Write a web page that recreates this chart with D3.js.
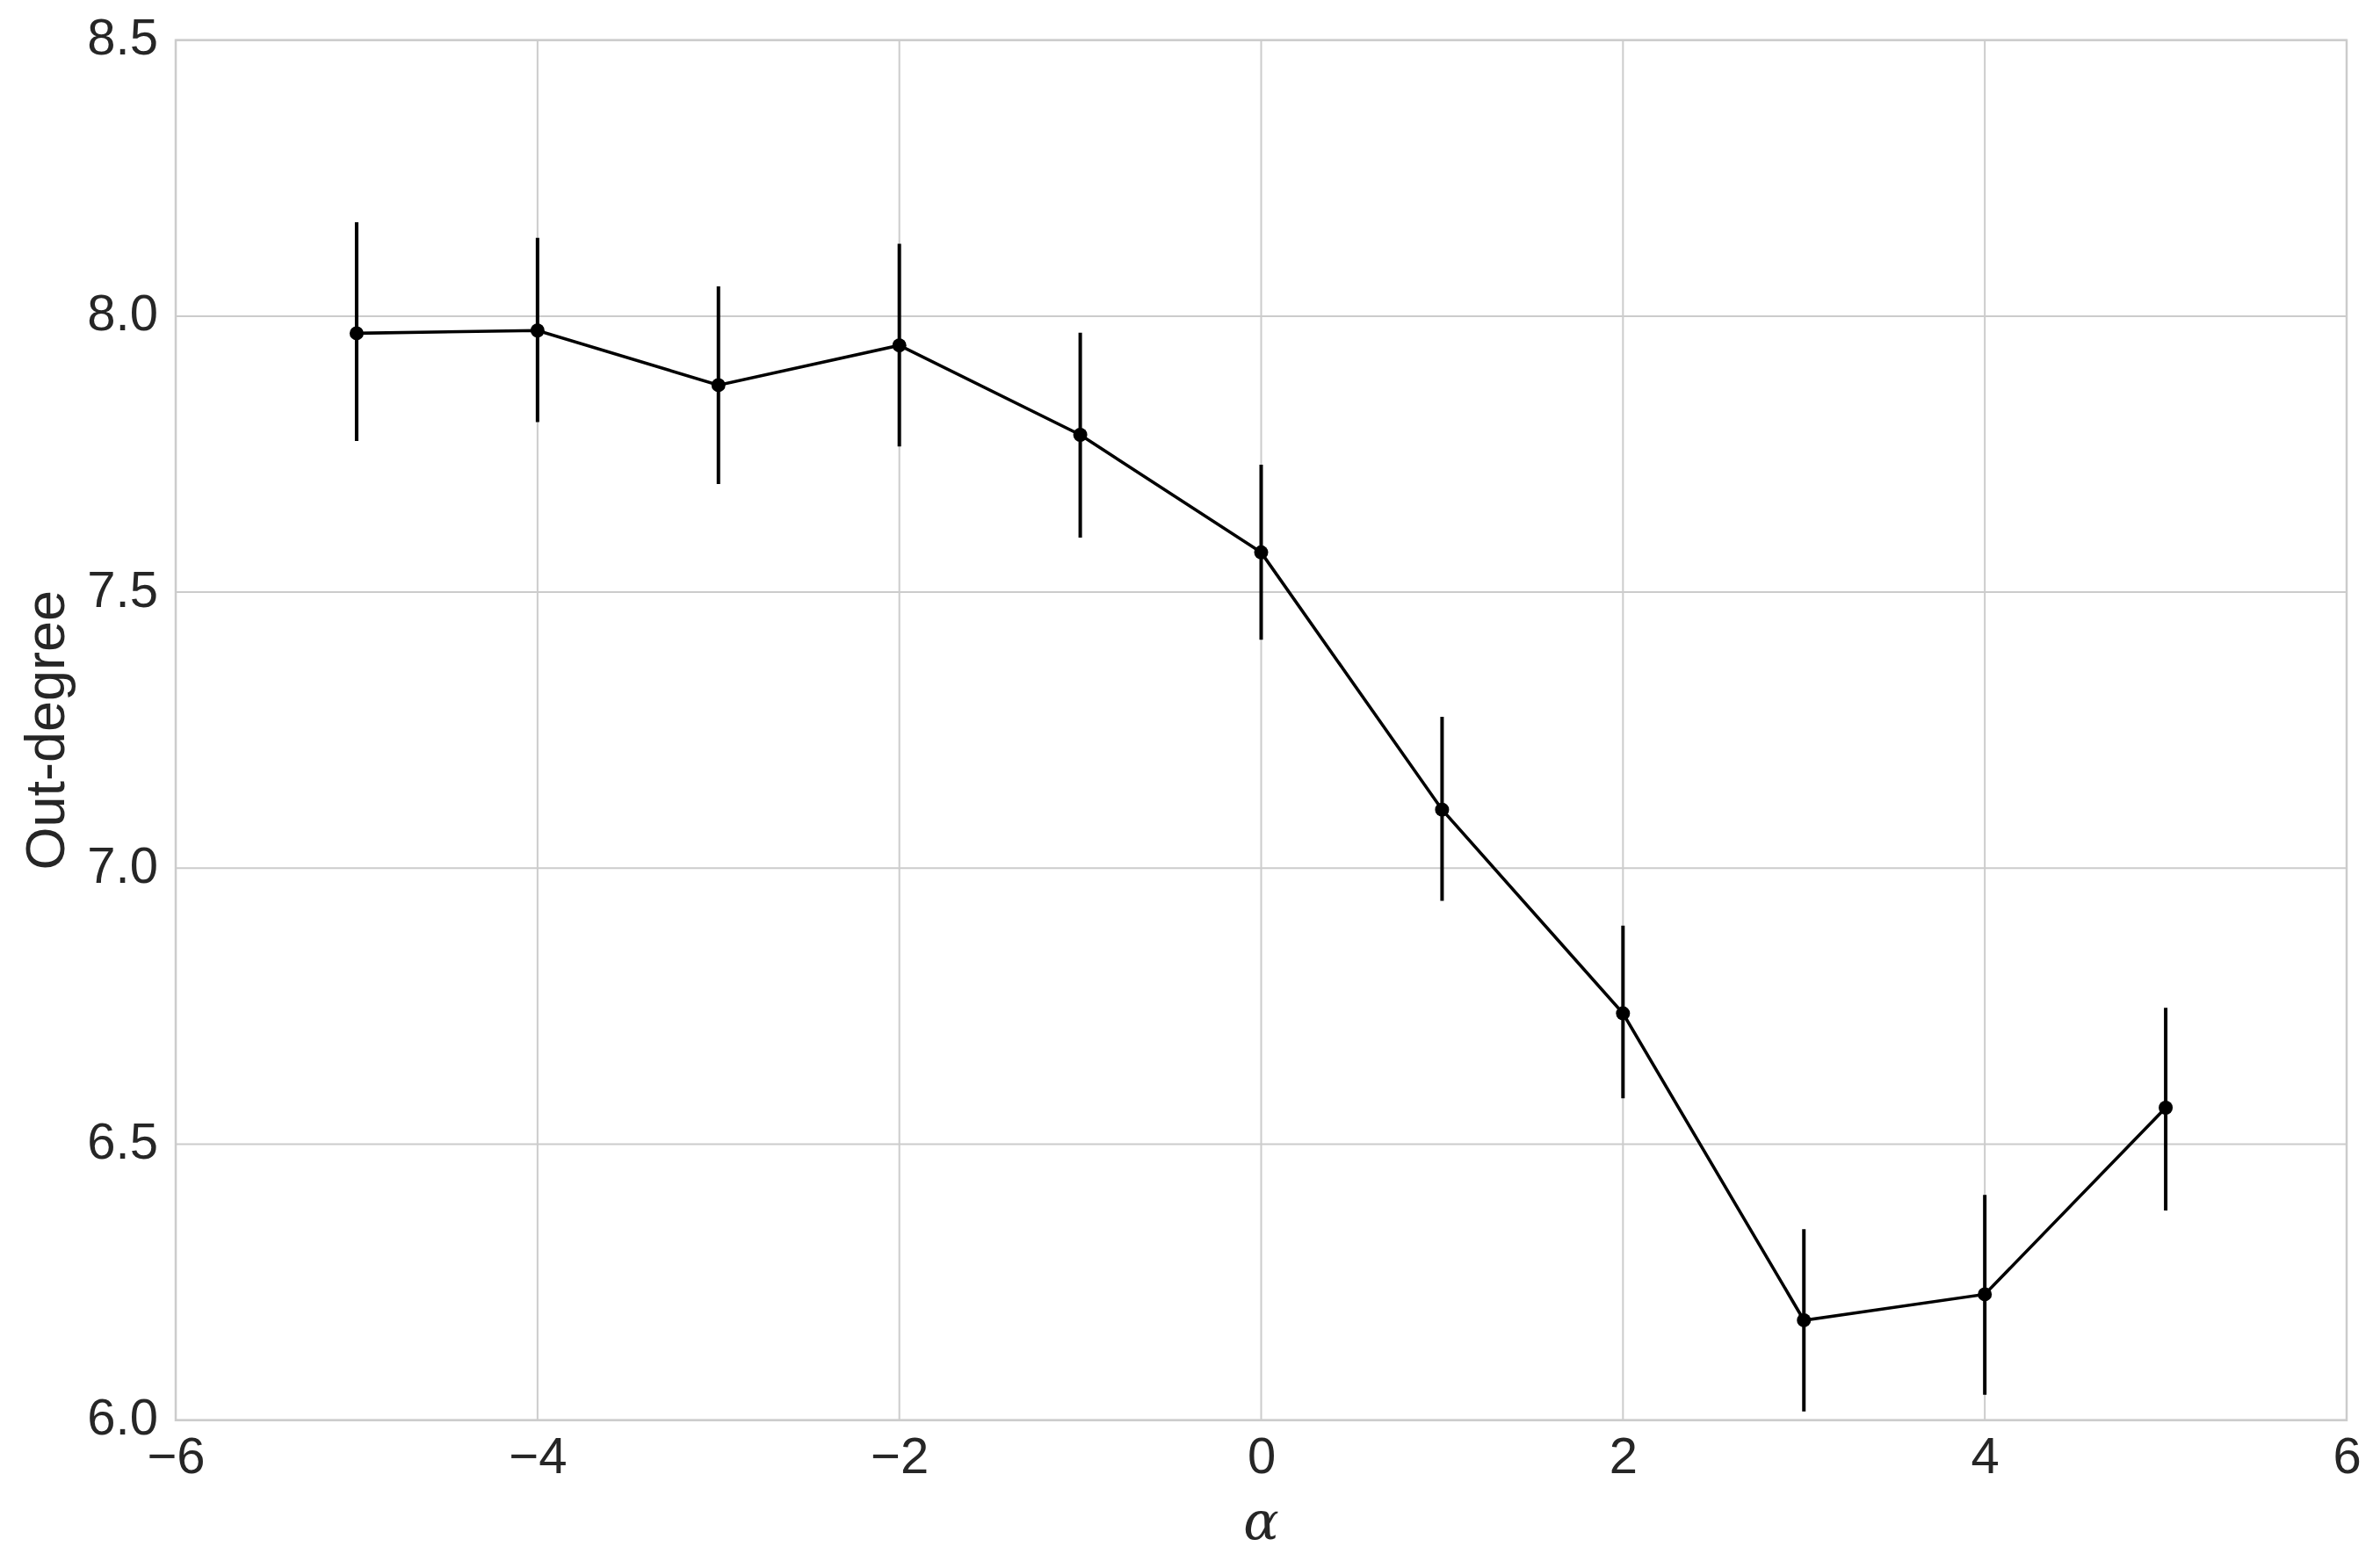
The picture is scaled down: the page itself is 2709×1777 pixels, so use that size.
<!DOCTYPE html>
<html><head><meta charset="utf-8">
<script src="https://cdn.jsdelivr.net/npm/d3@7"></script>
<style>body{margin:0;background:#fff}svg{display:block}</style>
</head><body>
<script>
const alphas = [-5,-4,-3,-2,-1,0,1,2,3,4,5];
const outDegree = [7.969,7.974,7.875,7.947,7.785,7.572,7.106,6.737,6.181,6.228,6.566];
const errLow = [7.774,7.808,7.696,7.764,7.599,7.414,6.941,6.583,6.016,6.046,6.380];
const errHigh = [8.170,8.142,8.054,8.131,7.970,7.731,7.274,6.896,6.346,6.408,6.747];
const xTicks = [-6,-4,-2,0,2,4,6];
const yTicks = [6.0,6.5,7.0,7.5,8.0,8.5];

const W=2709,H=1777;
const L=200,R=2671,T=45.7,B=1616.7;
const svg=d3.select("body").append("svg").attr("width",W).attr("height",H);
const x=d3.scaleLinear().domain([-6,6]).range([L,R]);
const y=d3.scaleLinear().domain([6,8.5]).range([B,T]);
const txt="#262626", grid="#cccccc";

// grid
svg.append("g").selectAll("line").data(xTicks).join("line")
  .attr("x1",d=>x(d)).attr("x2",d=>x(d)).attr("y1",T).attr("y2",B)
  .attr("stroke",grid).attr("stroke-width",2);
svg.append("g").selectAll("line").data(yTicks).join("line")
  .attr("x1",L).attr("x2",R).attr("y1",d=>y(d)).attr("y2",d=>y(d))
  .attr("stroke",grid).attr("stroke-width",2);
svg.append("rect").attr("x",L).attr("y",T).attr("width",R-L).attr("height",B-T)
  .attr("fill","none").attr("stroke",grid).attr("stroke-width",2.5);

// axes via d3 axis, styled
const xAx=svg.append("g").attr("transform",`translate(0,${B})`)
  .call(d3.axisBottom(x).tickValues(xTicks).tickSize(0).tickPadding(0).tickFormat(d=>d<0?"\u2212"+Math.abs(d):String(d)));
xAx.select(".domain").remove();
xAx.selectAll("text").attr("y",60).attr("dy",null).attr("fill",txt)
  .style("font-family","'Liberation Sans',Arial,sans-serif").style("font-size","58px");
const yAx=svg.append("g").attr("transform",`translate(${L},0)`)
  .call(d3.axisLeft(y).tickValues(yTicks).tickSize(0).tickPadding(0).tickFormat(d3.format(".1f")));
yAx.select(".domain").remove();
yAx.selectAll("text").attr("x",-20).attr("dy",null).attr("y",16).attr("fill",txt)
  .style("font-family","'Liberation Sans',Arial,sans-serif").style("font-size","58px");

// error bars
const data=alphas.map((a,i)=>({a,v:outDegree[i],lo:errLow[i],hi:errHigh[i]}));
svg.append("g").selectAll("line").data(data).join("line")
  .attr("x1",d=>x(d.a)).attr("x2",d=>x(d.a)).attr("y1",d=>y(d.lo)).attr("y2",d=>y(d.hi))
  .attr("stroke","#000").attr("stroke-width",4);
// line
svg.append("path").datum(data)
  .attr("d",d3.line().x(d=>x(d.a)).y(d=>y(d.v)))
  .attr("fill","none").attr("stroke","#000").attr("stroke-width",3.6);
svg.append("g").selectAll("circle").data(data).join("circle")
  .attr("cx",d=>x(d.a)).attr("cy",d=>y(d.v)).attr("r",8).attr("fill","#000");

// labels
svg.append("text").attr("x",(L+R)/2).attr("y",1752).attr("text-anchor","middle")
  .attr("fill",txt).style("font-family","'DejaVu Serif',serif").style("font-style","italic")
  .style("font-size","60px").text("\u03b1");
svg.append("text").attr("transform",`translate(73,${(T+B)/2}) rotate(-90)`).attr("text-anchor","middle")
  .attr("fill",txt).style("font-family","'Liberation Sans',Arial,sans-serif").style("font-size","63px").text("Out-degree");
</script>
</body></html>
